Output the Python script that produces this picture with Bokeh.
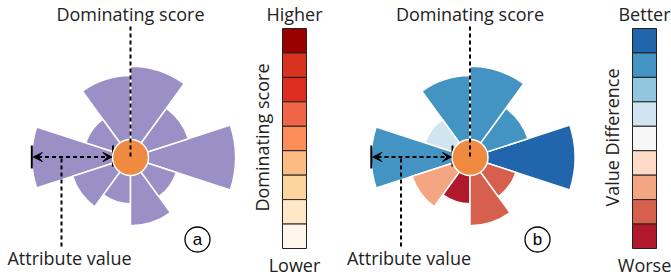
import math
from bokeh.plotting import figure
from bokeh.models import Range1d, Arrow, VeeHead, ColumnDataSource
from bokeh.core.properties import value
from bokeh.embed import file_html
from bokeh.resources import INLINE

# ---------------- data ----------------
attribute_angles_deg = [0, 36, 72, 108, 144, 180, 216, 252, 288, 324]
attribute_values = [100, 58, 87, 78, 45, 94, 58, 44, 65, 46]   # relative attribute value (%)
value_diff_class = [0, 1, 1, 1, 3, 1, 6, 8, 7, 7]               # index into value-difference scale (0 = best)

dominating_colors = ['#9b0000', '#d9331f', '#dd2c20', '#ef6548', '#fc8d59',
                     '#fdbb84', '#fdd49e', '#fee8c8', '#fff7ec']   # Higher -> Lower
value_diff_colors = ['#2166ac', '#4393c3', '#92c5de', '#d1e5f0', '#f7f7f7',
                     '#fddbc7', '#f4a582', '#d6604d', '#b2182b']   # Better -> Worse

glyph_labels = ["a", "b"]
# ---------------------------------------

W, H = 671, 278
FONT = "Open Sans"
FS = "18px"
p = figure(width=W, height=H, output_backend="svg", toolbar_location=None,
           x_range=Range1d(0, W), y_range=Range1d(-H, 0),
           min_border=0, outline_line_color=None)
p.axis.visible = False
p.grid.visible = False
p.background_fill_color = "white"
p.border_fill_color = "white"

MAX_R = 105.0
HALF = 18.0
PURPLE = "#9b90c6"
ORANGE = "#f08a40"

def Y(sy):
    return -sy

def draw_glyph(cx, cy, colors, letter, letter_x):
    src = ColumnDataSource(dict(
        start=[math.radians(a - HALF) for a in attribute_angles_deg],
        end=[math.radians(a + HALF) for a in attribute_angles_deg],
        r=[v / 100.0 * MAX_R for v in attribute_values],
        color=colors,
        x=[cx] * len(attribute_values),
        y=[Y(cy)] * len(attribute_values),
    ))
    p.wedge(x="x", y="y", radius="r", radius_units="screen",
            start_angle="start", end_angle="end",
            fill_color="color", line_color="white", line_width=1.5, source=src)
    # attribute-value arrow (on the 180 deg wedge)
    r180 = attribute_values[5] / 100.0 * MAX_R
    x0 = cx - r180
    x1 = cx - 17.5
    ya = Y(cy - 0.5)
    p.add_layout(Arrow(x_start=x1 - 1, y_start=ya, x_end=x0 + 1.5, y_end=ya,
                       line_width=2, line_dash="4 3", line_color="black",
                       start=VeeHead(size=9, line_width=1, fill_color="black", line_color="black"),
                       end=VeeHead(size=9, line_width=1, fill_color="black", line_color="black")))
    p.segment(x0=[x0, x1], y0=[Y(cy - 12), Y(cy - 12)], x1=[x0, x1], y1=[Y(cy + 11), Y(cy + 9)],
              line_color="black", line_width=2)
    # vertical dashed line to the "Attribute value" label
    xv = cx - 69
    p.segment(x0=[xv], y0=[Y(cy + 1)], x1=[xv], y1=[Y(248)],
              line_color="black", line_width=2, line_dash="4 3")
    # center circle
    p.scatter(x=[cx], y=[Y(cy)], size=36, marker="circle",
              fill_color=ORANGE, line_color="white", line_width=1.5)
    # vertical dashed line from "Dominating score"
    p.segment(x0=[cx], y0=[Y(26)], x1=[cx], y1=[Y(cy)],
              line_color="black", line_width=2, line_dash="4 3")
    p.text(x=[cx], y=[Y(13)], text=["Dominating score"], text_font=value(FONT),
           text_font_size=FS, text_align="center", text_baseline="alphabetic",
           text_color="#222222")
    p.text(x=[xv + 8], y=[Y(257)], text=["Attribute value"], text_font=value(FONT),
           text_font_size=FS, text_align="center", text_baseline="alphabetic",
           text_color="#222222")
    # circled letter
    p.scatter(x=[letter_x], y=[Y(239)], size=25, marker="circle",
              fill_color="white", line_color="black", line_width=1.3)
    p.text(x=[letter_x], y=[Y(239)], text=[letter], text_font=value("Liberation Sans"),
           text_font_size="17px", text_align="center", text_baseline="middle",
           text_color="black")

def draw_bar(x0, colors, top, bottom, title):
    n = len(colors)
    y_top, y_bot = 28.0, 248.0
    h = (y_bot - y_top) / n
    xs = x0 + 12
    p.rect(x=[xs] * n, y=[Y(y_top + h * (i + 0.5)) for i in range(n)],
           width=24, height=h, fill_color=colors, line_color="#222222", line_width=1)
    p.text(x=[xs], y=[Y(13)], text=[top], text_font=value(FONT), text_font_size=FS,
           text_align="center", text_baseline="alphabetic", text_color="#222222")
    p.text(x=[xs], y=[Y(264)], text=[bottom], text_font=value(FONT), text_font_size=FS,
           text_align="center", text_baseline="alphabetic", text_color="#222222")
    p.text(x=[x0 - 21], y=[Y(137)], text=[title], text_font=value(FONT), text_font_size=FS,
           text_align="center", text_baseline="middle", angle=math.pi / 2,
           text_color="#222222")

draw_glyph(130, 157, [PURPLE] * len(attribute_values), glyph_labels[0], 197)
draw_bar(282, dominating_colors, "Higher", "Lower", "Dominating score")
draw_glyph(469.5, 157, [value_diff_colors[k] for k in value_diff_class], glyph_labels[1], 537)
draw_bar(632, value_diff_colors, "Better", "Worse", "Value Difference")

open("out.html", "w").write(file_html(p, INLINE))
